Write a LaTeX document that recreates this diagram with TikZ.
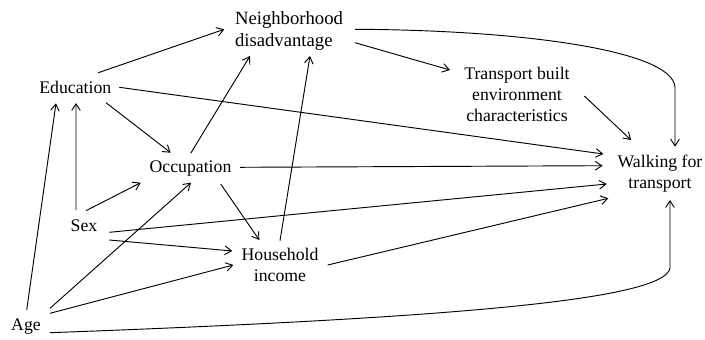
\documentclass[tikz,border=0pt]{standalone}
\usepackage{fontspec}
\setmainfont{Liberation Serif}
\usetikzlibrary{arrows.meta}
\begin{document}
\begin{tikzpicture}[x=0.75pt,y=-0.75pt,
  lbl/.style={inner sep=0pt,align=center,font=\fontsize{13.3}{16}\selectfont},
  arr/.style={line width=0.7pt,-{Straight Barb[length=5pt,width=6.5pt]}}]
\useasboundingbox (0,0) rectangle (705,339);
\node[lbl,align=left,font=\fontsize{14}{16.3}\selectfont] (nb) at (289,31.3) {Neighborhood\\disadvantage};
\node[lbl] (edu) at (75.3,87.5) {Education};
\node[lbl] (tr) at (517,94.5) {Transport built\\environment\\characteristics};
\node[lbl] (occ) at (190.5,169) {Occupation};
\node[lbl] (walk) at (660,173.5) {Walking for\\transport};
\node[lbl] (sex) at (84,226) {Sex};
\node[lbl] (hh) at (280,265) {Household\\income};
\node[lbl] (age) at (26,327) {Age};

\draw[arr] ([shift={(23,-14.8)}]edu.center) -- ([shift={(-64.7,-2)}]nb.center);
\draw[arr] ([shift={(44,-0.2)}]edu.center) -- ([shift={(-56.7,-19.5)}]walk.center);
\draw[arr] ([shift={(30.7,15.2)}]edu.center) -- ([shift={(-19.8,-16.3)}]occ.center);
\draw[arr] ([shift={(-8,-16)}]sex.center) -- ([shift={(0.7,15.5)}]edu.center);
\draw[arr] ([shift={(0.7,-17)}]age.center) -- ([shift={(-19.3,15.8)}]edu.center);
\draw[arr] ([shift={(2,-15.3)}]sex.center) -- ([shift={(-49.8,13.7)}]occ.center);
\draw[arr] ([shift={(0.2,-15.7)}]occ.center) -- ([shift={(-39,24.7)}]nb.center);
\draw[arr] ([shift={(49.5,-1.7)}]occ.center) -- ([shift={(-57.3,-7.8)}]walk.center);
\draw[arr] ([shift={(30.2,15)}]occ.center) -- ([shift={(-20.7,-25)}]hh.center);
\draw[arr] ([shift={(0,-24.3)}]hh.center) -- ([shift={(21,24.7)}]nb.center);
\draw[arr] ([shift={(25.3,6.3)}]sex.center) -- ([shift={(-53.3,10.5)}]walk.center);
\draw[arr] ([shift={(25.3,14)}]sex.center) -- ([shift={(-47.7,-14)}]hh.center);
\draw[arr] ([shift={(24,-18.7)}]age.center) -- ([shift={(0.5,13.7)}]occ.center);
\draw[arr] ([shift={(24,-13.7)}]age.center) -- ([shift={(-46.7,0)}]hh.center);
\draw[arr] ([shift={(47.7,0)}]hh.center) -- ([shift={(-51.7,24.8)}]walk.center);
\draw[arr] ([shift={(24,5.7)}]age.center) .. controls (450,318) and (665,300) .. (670,268) -- ([shift={(10,26.5)}]walk.center);
\draw[arr] ([shift={(66,-2)}]nb.center) .. controls (520,30) and (672,50) .. (675,87) -- ([shift={(15,-26.8)}]walk.center);
\draw[arr] ([shift={(66,11.4)}]nb.center) -- ([shift={(-67,-24.5)}]tr.center);
\draw[arr] ([shift={(67.3,1.5)}]tr.center) -- ([shift={(-29,-33.5)}]walk.center);
\end{tikzpicture}
\end{document}
